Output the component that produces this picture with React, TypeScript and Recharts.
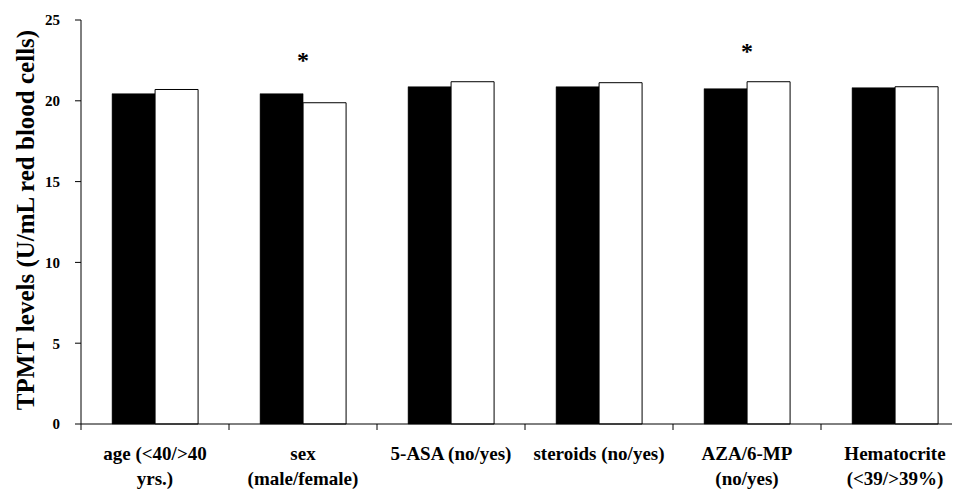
import {
  BarChart,
  Bar,
  XAxis,
  YAxis,
  ReferenceDot,
} from "recharts";

// categories (two-line tick labels)
const categories = [
  "age",
  "sex",
  "5-ASA",
  "steroids",
  "AZA/6-MP",
  "Hematocrite",
];
const tickLines = [
  ["age (<40/>40", "yrs.)"],
  ["sex", "(male/female)"],
  ["5-ASA (no/yes)"],
  ["steroids (no/yes)"],
  ["AZA/6-MP", "(no/yes)"],
  ["Hematocrite", "(<39/>39%)"],
];

// first group (black) and second group (white)
const groupA = [20.44, 20.44, 20.87, 20.87, 20.75, 20.81];
const groupB = [20.7, 19.88, 21.18, 21.12, 21.18, 20.87];

// significance markers (* above the pair)
const markers = [null, 22.8, null, null, 23.3, null];

const yTicks = [0, 5, 10, 15, 20, 25];

const data = categories.map((name, i) => ({
  name,
  a: groupA[i],
  b: groupB[i],
}));

const FONT = '"Liberation Serif", "Times New Roman", serif';

// tick text + small tick marks at the category boundaries
const CategoryTick = (props: any) => {
  const { x, y, index, payload } = props;
  const lines = tickLines[index] || [];
  const half = payload?.offset || 0;
  const axisY = y - 8;
  return (
    <g>
      <line x1={x - half} x2={x - half} y1={axisY} y2={axisY + 6} stroke="#000" />
      {index === categories.length - 1 && (
        <line x1={x + half} x2={x + half} y1={axisY} y2={axisY + 6} stroke="#000" />
      )}
      {lines.map((line, i) => (
        <text
          key={i}
          x={x}
          y={y + 28 + i * 25}
          textAnchor="middle"
          fontFamily={FONT}
          fontWeight="bold"
          fontSize={19}
          fill="#000"
        >
          {line}
        </text>
      ))}
    </g>
  );
};

const YLabel = () => (
  <text
    x={17}
    y={212}
    transform="rotate(-90, 17, 212)"
    textAnchor="middle"
    dominantBaseline="central"
    fontFamily={FONT}
    fontWeight="bold"
    fontSize={25}
    fill="#000"
  >
    TPMT levels (U/mL red blood cells)
  </text>
);

const App = () => {
  return (
    <div style={{ width: 952, overflow: "hidden" }}>
      <BarChart
        width={970}
        height={481}
        data={data}
        margin={{ top: 12, right: 9, bottom: 5, left: 13 }}
        barCategoryGap="21%"
        barGap={0}
      >
        <XAxis
          dataKey="name"
          height={60}
          axisLine={{ stroke: "#000" }}
          tickLine={false}
          interval={0}
          tick={<CategoryTick />}
        />
        <YAxis
          domain={[0, 25]}
          ticks={yTicks}
          width={60}
          tickSize={6}
          tickMargin={15}
          axisLine={{ stroke: "#000" }}
          tickLine={{ stroke: "#000" }}
          tick={{
            fill: "#000",
            fontFamily: FONT,
            fontWeight: "bold",
            fontSize: 15,
          }}
          label={{ content: () => <YLabel /> }}
        />
        <Bar
          dataKey="a"
          fill="#000"
          stroke="#000"
          strokeWidth={0.5}
          isAnimationActive={false}
        />
        <Bar
          dataKey="b"
          fill="#fff"
          stroke="#000"
          strokeWidth={1}
          isAnimationActive={false}
        />
        {markers.map((m, i) =>
          m === null ? null : (
            <ReferenceDot
              key={i}
              x={categories[i]}
              y={m}
              r={0}
              stroke="none"
              fill="none"
              label={{
                content: (p: any) => (
                  <text
                    x={p.viewBox.x + (p.viewBox.width || 0) / 2}
                    y={p.viewBox.y + 12}
                    textAnchor="middle"
                    fontFamily={FONT}
                    fontWeight="bold"
                    fontSize={24}
                    fill="#000"
                  >
                    *
                  </text>
                ),
              }}
            />
          )
        )}
      </BarChart>
    </div>
  );
};

export default App;
